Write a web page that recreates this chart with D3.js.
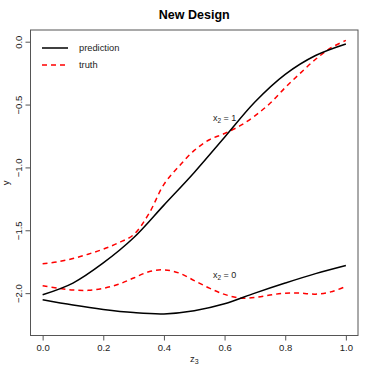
<!DOCTYPE html>
<html>
<head>
<meta charset="utf-8">
<script src="https://cdn.jsdelivr.net/npm/d3@7"></script>
<style>
  body { margin: 0; background: #fff; }
  text { font-family: "Liberation Sans", Arial, sans-serif; }
</style>
</head>
<body>
<div class="chart"></div>
<script>
// values
const predZ = [0, 0.1, 0.2, 0.3, 0.4, 0.5, 0.6, 0.7, 0.8, 0.9, 1.0];
const predX1 = [-2.013, -1.92, -1.76, -1.56, -1.30, -1.04, -0.76, -0.48, -0.26, -0.11, -0.018];
const predX0 = [-2.053, -2.095, -2.13, -2.155, -2.165, -2.14, -2.085, -2.00, -1.92, -1.845, -1.78];

const truthZ = [0, 0.05, 0.1, 0.15, 0.2, 0.25, 0.3, 0.35, 0.4, 0.45, 0.5,
                0.55, 0.6, 0.65, 0.7, 0.75, 0.8, 0.85, 0.9, 0.95, 1.0];
const truthX1 = [-1.767, -1.75, -1.725, -1.69, -1.65, -1.60, -1.535, -1.37, -1.135, -0.99, -0.865,
                 -0.78, -0.73, -0.67, -0.59, -0.49, -0.365, -0.25, -0.14, -0.05, 0.01];
const truthX0 = [-1.942, -1.96, -1.975, -1.978, -1.962, -1.93, -1.88, -1.83, -1.815, -1.84, -1.90,
                 -1.96, -2.01, -2.038, -2.035, -2.015, -2.0, -2.0, -2.008, -1.99, -1.947];

const xTicks = [0, 0.2, 0.4, 0.6, 0.8, 1.0];
const yTicks = [0, -0.5, -1.0, -1.5, -2.0];
const legendLabels = ["prediction", "truth"];

const width = 374, height = 374;
const box = {left: 30.5, right: 358, top: 30, bottom: 335.5};

const svg = d3.select('.chart').append('svg')
    .attr('width', width)
    .attr('height', height);

// R style padding of the axis range
const xScale = d3.scaleLinear().domain([-0.04, 1.04]).range([box.left, box.right]);
const yScale = d3.scaleLinear().domain([-2.337, 0.093]).range([box.bottom, box.top]);

const line = d3.line()
    .x(d => xScale(d[0]))
    .y(d => yScale(d[1]))
    .curve(d3.curveCatmullRom.alpha(0.5));

function drawCurve(zs, vs, colour, dashed) {
    svg.append('path')
        .datum(zs.map((z, i) => [z, vs[i]]))
        .attr('d', line)
        .attr('fill', 'none')
        .attr('stroke', colour)
        .attr('stroke-width', 1.5)
        .attr('stroke-dasharray', dashed ? '5,4' : null);
}

drawCurve(truthZ, truthX1, '#ff0000', true);
drawCurve(truthZ, truthX0, '#ff0000', true);
drawCurve(predZ, predX1, '#000', false);
drawCurve(predZ, predX0, '#000', false);

// frame
svg.append('rect')
    .attr('x', box.left).attr('y', box.top)
    .attr('width', box.right - box.left)
    .attr('height', box.bottom - box.top)
    .attr('fill', 'none')
    .attr('stroke', '#555')
    .attr('stroke-width', 1);

// axes
const xAxis = d3.axisBottom(xScale).tickValues(xTicks).tickSize(5).tickPadding(4)
    .tickFormat(d3.format('.1f'));
const gx = svg.append('g')
    .attr('transform', `translate(0,${box.bottom})`)
    .call(xAxis);
gx.select('.domain').attr('d', `M${xScale(0)},0H${xScale(1)}`).attr('stroke', '#555');
gx.selectAll('.tick line').attr('stroke', '#555');
gx.selectAll('.tick text').attr('font-size', 9.5).attr('fill', '#222')
    .attr('font-family', '"Liberation Sans", Arial, sans-serif');

const yAxis = d3.axisLeft(yScale).tickValues(yTicks).tickSize(5)
    .tickFormat(d => d3.format('.1f')(d).replace('-', '\u2212'));
const gy = svg.append('g')
    .attr('transform', `translate(${box.left},0)`)
    .call(yAxis);
gy.select('.domain').attr('d', `M0,${yScale(-2)}V${yScale(0)}`).attr('stroke', '#555');
gy.selectAll('.tick line').attr('stroke', '#555');
gy.selectAll('.tick text')
    .attr('font-size', 9.5).attr('fill', '#222')
    .attr('font-family', '"Liberation Sans", Arial, sans-serif')
    .attr('x', null).attr('dy', null)
    .attr('text-anchor', 'middle')
    .attr('transform', 'translate(-9,0) rotate(-90)');

// title and axis labels
svg.append('text')
    .attr('x', (box.left + box.right) / 2)
    .attr('y', 19)
    .attr('text-anchor', 'middle')
    .attr('font-size', 12.5)
    .attr('font-weight', 'bold')
    .text('New Design');

svg.append('text')
    .attr('transform', `translate(9,${(box.top + box.bottom) / 2}) rotate(-90)`)
    .attr('text-anchor', 'middle')
    .attr('font-size', 9.5)
    .attr('fill', '#222')
    .text('y');

const xl = svg.append('text')
    .attr('x', (box.left + box.right) / 2)
    .attr('y', 362)
    .attr('text-anchor', 'middle')
    .attr('font-size', 9.5)
    .attr('fill', '#222');
xl.append('tspan').text('z');
xl.append('tspan').attr('font-size', 7).attr('dy', 2).text('3');

// curve annotations
function subLabel(z, v, val) {
    const t = svg.append('text')
        .attr('x', xScale(z))
        .attr('y', yScale(v) + 3.5)
        .attr('text-anchor', 'middle')
        .attr('font-size', 9)
        .attr('fill', '#222');
    t.append('tspan').text('x');
    t.append('tspan').attr('font-size', 6.5).attr('dy', 2).text('2');
    t.append('tspan').attr('dy', -2).text(' = ' + val);
}
subLabel(0.6, -0.6, 1);
subLabel(0.6, -1.85, 0);

// legend
legendLabels.forEach((lab, i) => {
    const ly = 48 + i * 17;
    svg.append('line')
        .attr('x1', 42).attr('x2', 68)
        .attr('y1', ly).attr('y2', ly)
        .attr('stroke', i === 0 ? '#000' : '#ff0000')
        .attr('stroke-width', 1.5)
        .attr('stroke-dasharray', i === 0 ? null : '5,4');
    svg.append('text')
        .attr('x', 79).attr('y', ly + 3.3)
        .attr('font-size', 9.3)
        .attr('fill', '#222')
        .text(lab);
});
</script>
</body>
</html>
